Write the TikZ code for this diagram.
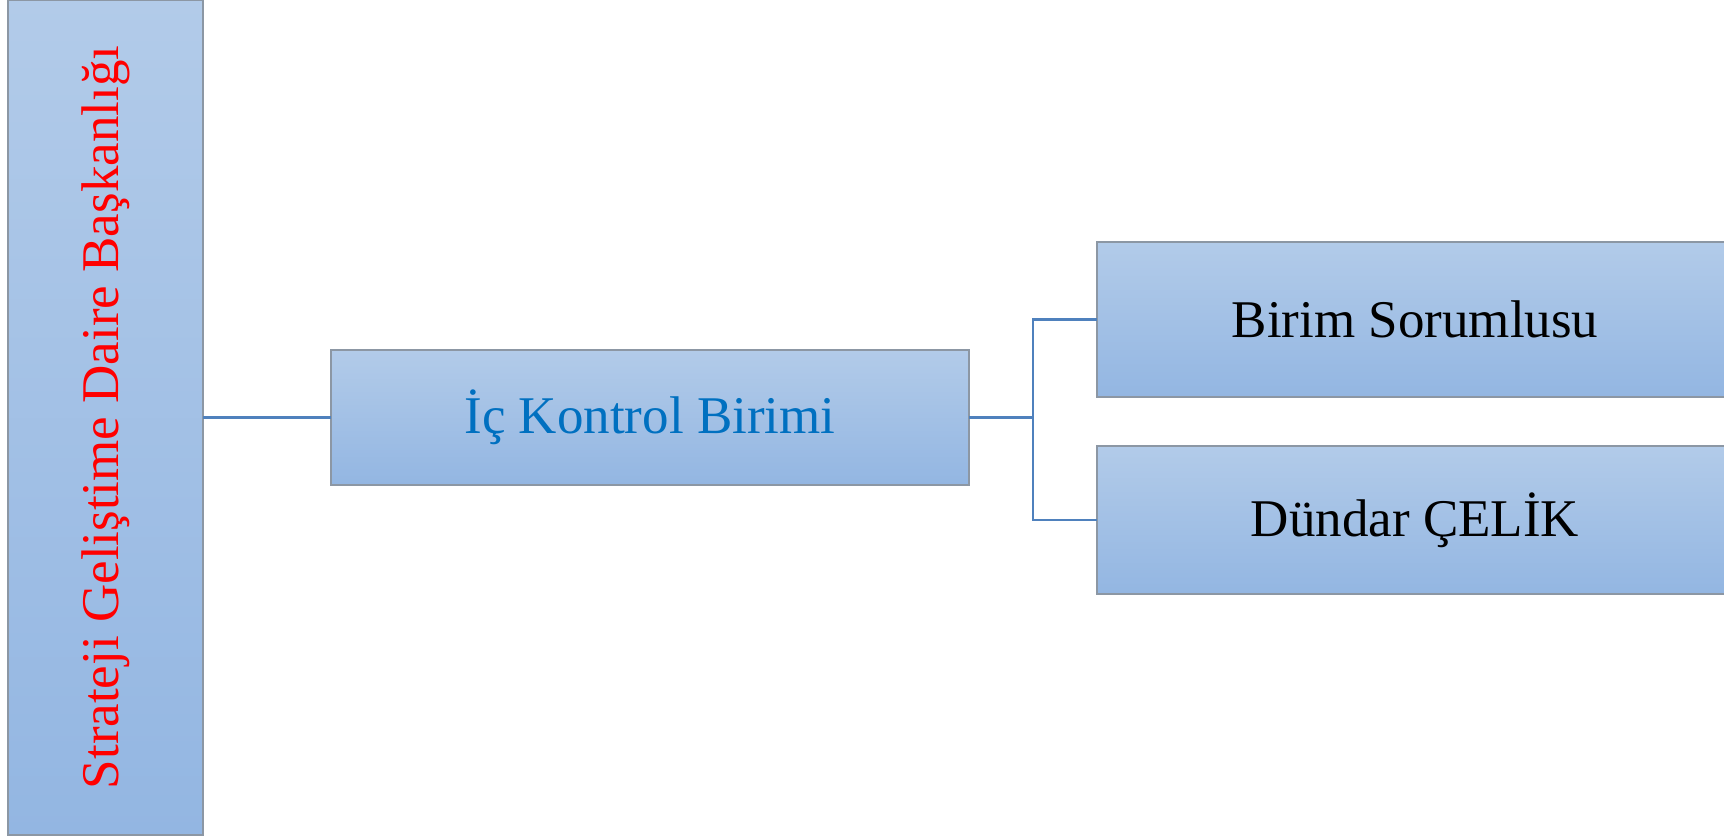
\documentclass[tikz,border=0pt]{standalone}
\usepackage{fontspec}
\setmainfont{Liberation Serif}
\definecolor{boxtop}{HTML}{B2CBE9}
\definecolor{boxbot}{HTML}{93B6E2}
\definecolor{boxline}{HTML}{8C97A4}
\definecolor{conn}{HTML}{4F81BD}
\definecolor{icblue}{HTML}{0070C0}
\begin{document}
\begin{tikzpicture}[x=0.5pt,y=-0.5pt,
  orgbox/.style={draw=boxline,line width=1pt,top color=boxtop,bottom color=boxbot,
    inner sep=0pt,outer sep=0pt,font=\fontsize{26.5}{30}\selectfont},
  link/.style={draw=conn,line width=1.4pt}]
\useasboundingbox (0,0) rectangle (1724,836);
\node[orgbox,minimum width=97.5pt,minimum height=417.5pt] (sgdb) at (105.5,417.5) {};
\node[rotate=90,text=red,font=\fontsize{26.5}{30}\selectfont] (sgdbt) at (sgdb.center) {Strateji Geliştime Daire Başkanlığı};
\node[orgbox,minimum width=319pt,minimum height=67.5pt,text=icblue] (ick) at (650,417.5) {İç Kontrol Birimi};
\node[orgbox,minimum width=318pt,minimum height=77.5pt] (bs) at (1415,319.5) {Birim Sorumlusu};
\node[orgbox,minimum width=318pt,minimum height=74pt] (dc) at (1415,520) {Dündar ÇELİK};
\coordinate (br) at (1033,417.5);
\draw[link] (sgdb.east |- ick.west) -- (ick.west);
\draw[link] (ick.east) -- (br);
\draw[link] (br) |- (bs.west);
\draw[link] (br) |- (dc.west);
\end{tikzpicture}
\end{document}
